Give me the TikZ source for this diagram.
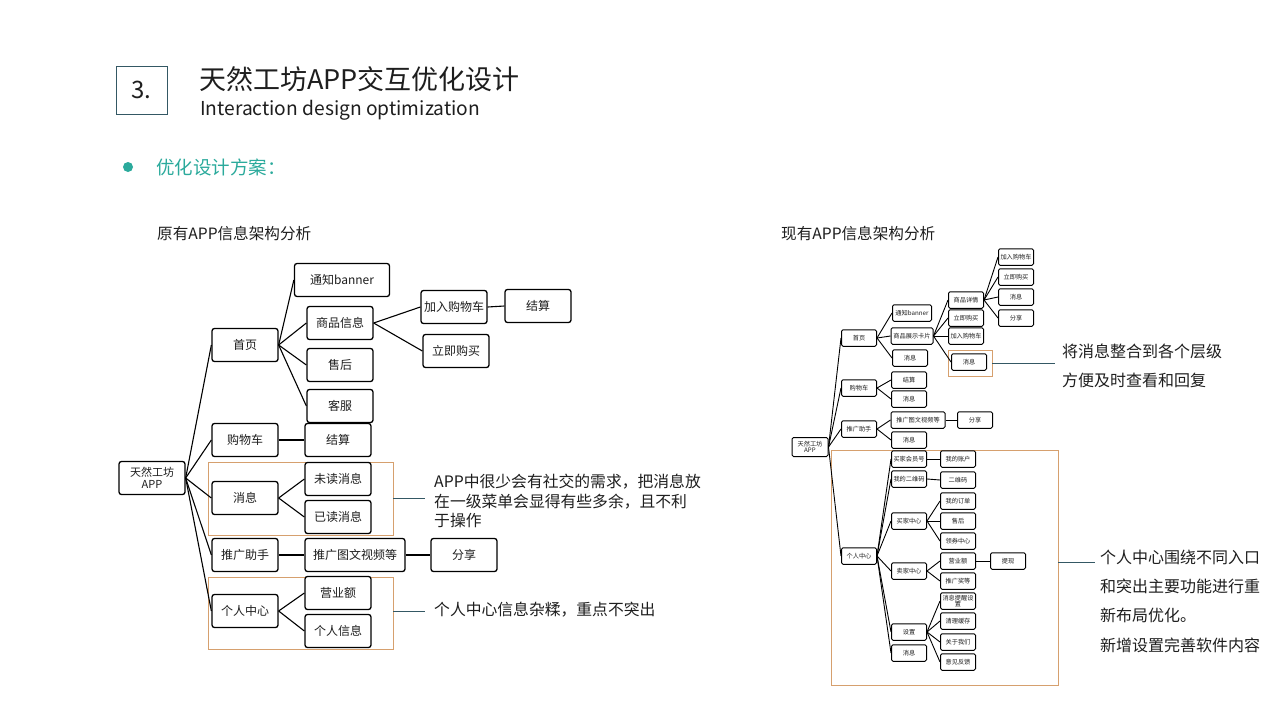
\documentclass[tikz,border=0pt]{standalone}
\usepackage{fontspec}
\setmainfont{Noto Sans CJK SC}
\definecolor{teal1}{RGB}{43,170,156}
\definecolor{slate}{RGB}{52,88,100}
\definecolor{orangeb}{RGB}{214,160,110}
\definecolor{txt}{RGB}{30,30,30}
\tikzset{
  lbox/.style={draw=black, line width=1.3pt, rounded corners=2.5pt, fill=white,
    minimum width=66pt, minimum height=33pt, inner sep=1pt, text=txt,
    font=\fontsize{12}{14}\selectfont, align=center},
  rbox/.style={draw=black, line width=1pt, rounded corners=1.5pt, fill=white,
    minimum width=35pt, minimum height=16.5pt, inner sep=0.5pt, text=txt,
    font=\fontsize{6.2}{6.6}\selectfont, align=center},
  edge/.style={line width=1.1pt, black},
  redge/.style={line width=0.9pt, black},
  grp/.style={draw=orangeb, line width=0.8pt},
  note/.style={draw=slate, line width=0.8pt},
  notetext/.style={anchor=west, inner sep=0pt, text=txt, align=left},
}
\begin{document}
\begin{tikzpicture}[x=1pt,y=-1pt]
\useasboundingbox[fill=white] (0,0) rectangle (1280,720);

% ---------- header ----------
\node[draw=slate, line width=0.8pt, minimum width=51pt, minimum height=48pt, inner sep=0pt,
  font=\fontsize{24}{26}\selectfont, text=txt] (num) at (141.5,90) {3.};
\node[anchor=west, inner sep=0pt, font=\fontsize{27}{29}\selectfont, text=txt] (title) at (199,79) {天然工坊APP交互优化设计};
\node[anchor=west, inner sep=0pt, font=\fontsize{19.2}{21}\selectfont, text=txt] (subtitle) at (200,110) {Interaction design optimization};
\fill[teal1] (128,167) circle (5pt);
\node[anchor=west, inner sep=0pt, font=\fontsize{18.5}{20}\selectfont, text=teal1] (plan) at (156,167) {优化设计方案：};
\node[anchor=west, inner sep=0pt, font=\fontsize{15.6}{17}\selectfont, text=txt] (lhead) at (157,234) {原有APP信息架构分析};
\node[anchor=west, inner sep=0pt, font=\fontsize{15.6}{17}\selectfont, text=txt] (rhead) at (781,234) {现有APP信息架构分析};

% ---------- left diagram ----------
\draw[grp] (208,462) rectangle (393,535);
\draw[grp] (208,577) rectangle (393,649);

\node[lbox, minimum width=66pt, minimum height=33pt, font=\fontsize{11}{12}\selectfont] (root) at (152,478) {天然工坊\\APP};
\node[lbox] (home) at (245,345) {首页};
\node[lbox] (cart) at (245,440) {购物车};
\node[lbox] (msg) at (245,498) {消息};
\node[lbox] (promo) at (245,555) {推广助手};
\node[lbox] (me) at (245,611) {个人中心};

\node[lbox, minimum width=95pt] (banner) at (342,280) {通知banner};
\node[lbox] (goods) at (340,323) {商品信息};
\node[lbox] (after) at (340,365) {售后};
\node[lbox] (service) at (340,406) {客服};
\node[lbox] (pay) at (338,440) {结算};
\node[lbox] (unread) at (338,479) {未读消息};
\node[lbox] (read) at (338,517) {已读消息};
\node[lbox, minimum width=100pt] (media) at (355,555) {推广图文视频等};
\node[lbox] (share) at (464,555) {分享};
\node[lbox] (sales) at (338,593) {营业额};
\node[lbox] (info) at (338,631) {个人信息};
\node[lbox] (addcart) at (454,307) {加入购物车};
\node[lbox] (pay2) at (538,306) {结算};
\node[lbox] (buy) at (456,351) {立即购买};

\foreach \c in {home,cart,msg,promo,me} \draw[edge] (root.east) -- (\c.west);
\foreach \c in {banner,goods,after,service} \draw[edge] (home.east) -- (\c.west);
\draw[edge] (goods.east) -- (addcart.west);
\draw[edge] (goods.east) -- (buy.west);
\draw[edge] (addcart.east) -- (pay2.west);
\draw[edge] (cart.east) -- (pay.west);
\draw[edge] (msg.east) -- (unread.west);
\draw[edge] (msg.east) -- (read.west);
\draw[edge] (promo.east) -- (media.west);
\draw[edge] (media.east) -- (share.west);
\draw[edge] (me.east) -- (sales.west);
\draw[edge] (me.east) -- (info.west);

\coordinate (n1a) at (393,498);
\coordinate (n1b) at (425,498);
\draw[note] (n1a) -- (n1b);
\node[notetext, font=\fontsize{15.8}{19.5}\selectfont, text width=290pt] (note1) at (434,501) {APP中很少会有社交的需求，把消息放\\在一级菜单会显得有些多余，且不利\\于操作};
\coordinate (n2a) at (393,611);
\coordinate (n2b) at (425,611);
\draw[note] (n2a) -- (n2b);
\node[notetext, font=\fontsize{15.8}{19}\selectfont] (note2) at (434,610) {个人中心信息杂糅，重点不突出};

% ---------- right diagram ----------
\draw[grp] (948,350) rectangle (992,376);
\draw[grp] (831,450) rectangle (1058,685);

\node[rbox, minimum width=36pt, minimum height=19pt] (rroot) at (810,447) {天然工坊\\APP};
\node[rbox] (rhome) at (859,338) {首页};
\node[rbox] (rcart) at (859,388) {购物车};
\node[rbox] (rpromo) at (859,429) {推广助手};
\node[rbox] (rme) at (859,556) {个人中心};

\node[rbox, minimum width=39pt] (rbanner) at (912,313) {通知banner};
\node[rbox, minimum width=42pt] (rcard) at (912,336) {商品展示卡片};
\node[rbox] (rmsg1) at (910,358) {消息};
\node[rbox] (rpay) at (909,380) {结算};
\node[rbox] (rmsg2) at (909,399) {消息};
\node[rbox, minimum width=54pt] (rmedia) at (918,420) {推广图文视频等};
\node[rbox] (rshare1) at (975,420) {分享};
\node[rbox] (rmsg3) at (909,440) {消息};

\node[rbox] (rdetail) at (966,300) {商品详情};
\node[rbox] (rbuy2) at (966,318) {立即购买};
\node[rbox] (radd2) at (966,336) {加入购物车};
\node[rbox] (rmsg4) at (969,362) {消息};
\node[rbox] (radd1) at (1016,257) {加入购物车};
\node[rbox] (rbuy1) at (1016,277) {立即购买};
\node[rbox] (rmsg5) at (1016,297) {消息};
\node[rbox] (rshare2) at (1016,318) {分享};

\node[rbox] (rvip) at (909,459) {买家会员号};
\node[rbox] (racct) at (958,459) {我的账户};
\node[rbox] (rqr) at (909,479) {我的二维码};
\node[rbox] (rqr2) at (958,480) {二维码};
\node[rbox] (rbuyer) at (909,521) {买家中心};
\node[rbox] (rorder) at (958,501) {我的订单};
\node[rbox] (rafter) at (958,521) {售后};
\node[rbox] (rcoupon) at (958,541) {领券中心};
\node[rbox] (rseller) at (909,571) {卖家中心};
\node[rbox] (rsales) at (958,561) {营业额};
\node[rbox] (rcash) at (1008,561) {提现};
\node[rbox] (rreward) at (958,581) {推广奖等};
\node[rbox] (rset) at (909,632) {设置};
\node[rbox] (rremind) at (958,601) {消息提醒设\\置};
\node[rbox] (rclean) at (958,621) {清理缓存};
\node[rbox] (rabout) at (958,642) {关于我们};
\node[rbox] (rfeed) at (958,662) {意见反馈};
\node[rbox] (rmsg6) at (909,653) {消息};

\foreach \c in {rhome,rcart,rpromo,rme} \draw[redge] (rroot.east) -- (\c.west);
\foreach \c in {rbanner,rcard,rmsg1} \draw[redge] (rhome.east) -- (\c.west);
\foreach \c in {rdetail,rbuy2,radd2,rmsg4} \draw[redge] (rcard.east) -- (\c.west);
\foreach \c in {radd1,rbuy1,rmsg5,rshare2} \draw[redge] (rdetail.east) -- (\c.west);
\foreach \c in {rpay,rmsg2} \draw[redge] (rcart.east) -- (\c.west);
\foreach \c in {rmedia,rmsg3} \draw[redge] (rpromo.east) -- (\c.west);
\draw[redge] (rmedia.east) -- (rshare1.west);
\foreach \c in {rvip,rqr,rbuyer,rseller,rset,rmsg6} \draw[redge] (rme.east) -- (\c.west);
\draw[redge] (rvip.east) -- (racct.west);
\draw[redge] (rqr.east) -- (rqr2.west);
\foreach \c in {rorder,rafter,rcoupon} \draw[redge] (rbuyer.east) -- (\c.west);
\foreach \c in {rsales,rreward} \draw[redge] (rseller.east) -- (\c.west);
\draw[redge] (rsales.east) -- (rcash.west);
\foreach \c in {rremind,rclean,rabout,rfeed} \draw[redge] (rset.east) -- (\c.west);

\coordinate (n3a) at (992,363);
\coordinate (n3b) at (1055,363);
\draw[note] (n3a) -- (n3b);
\node[notetext, font=\fontsize{16}{29}\selectfont] (note3) at (1062,366) {将消息整合到各个层级\\方便及时查看和回复};
\coordinate (n4a) at (1058,562);
\coordinate (n4b) at (1095,562);
\draw[note] (n4a) -- (n4b);
\node[notetext, font=\fontsize{16}{29.3}\selectfont] (note4) at (1100,601) {个人中心围绕不同入口\\和突出主要功能进行重\\新布局优化。\\新增设置完善软件内容};
\end{tikzpicture}
\end{document}
